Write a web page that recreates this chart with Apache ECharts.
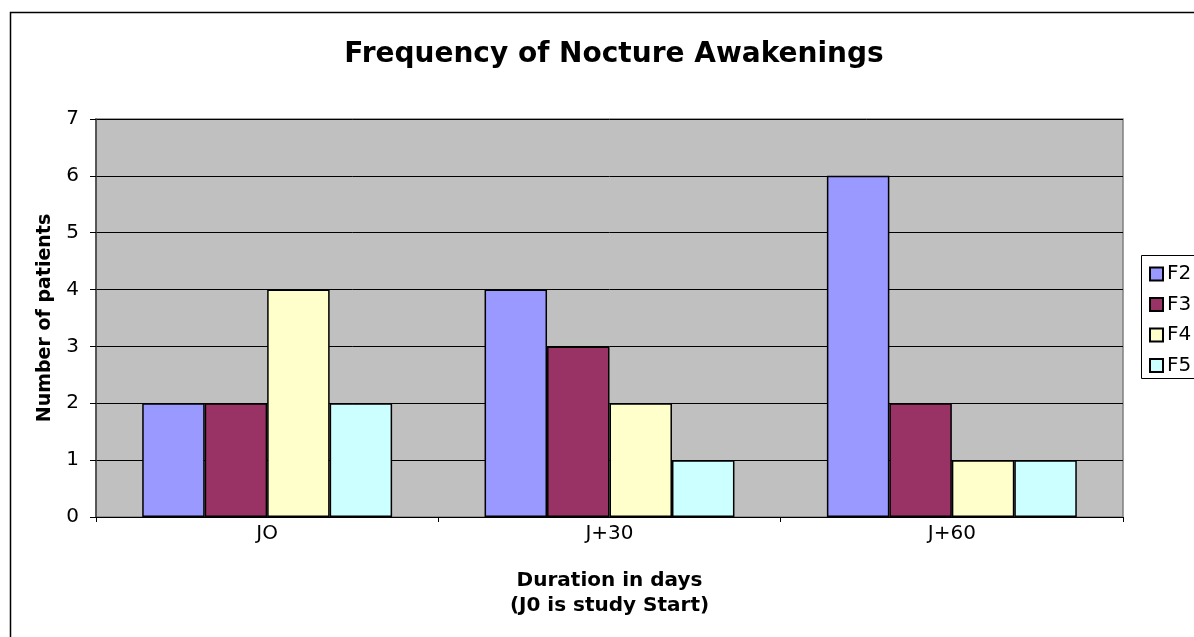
<!DOCTYPE html>
<html>
<head>
<meta charset="utf-8">
<script src="https://cdn.jsdelivr.net/npm/echarts@6/dist/echarts.min.js"></script>
<style>
  html, body { margin: 0; padding: 0; background: #fff; }
  #chart { width: 1194px; height: 637px; }
</style>
</head>
<body>
<div id="chart"></div>
<script>
// data
const categories = ['JO', 'J+30', 'J+60']
const seriesNames = ['F2', 'F3', 'F4', 'F5']
const f2 = [2, 4, 6]
const f3 = [2, 3, 2]
const f4 = [4, 2, 1]
const f5 = [2, 1, 1]
const colors = ['#9999FF', '#993366', '#FFFFCC', '#CCFFFF']

const values = [f2, f3, f4, f5]
const font = 'Verdana, "DejaVu Sans", sans-serif'

const chart = echarts.init(document.getElementById('chart'))
chart.setOption({
  animation: false,
  textStyle: { fontFamily: font },
  title: {
    text: 'Frequency of Nocture Awakenings',
    left: 609,
    textAlign: 'center',
    top: 36,
    textStyle: { fontSize: 28, fontWeight: 'bold', color: '#000', fontFamily: font }
  },
  legend: {
    orient: 'vertical',
    left: 1144,
    top: 259,
    itemWidth: 13,
    itemHeight: 13,
    itemGap: 10.5,
    icon: 'rect',
    textStyle: { fontSize: 20, color: '#000', padding: [0, 0, 0, -1] },
    data: seriesNames
  },
  graphic: [
    { type: 'rect', shape: { x: 10.5, y: 12.5, width: 1200, height: 640 }, style: { fill: null, stroke: '#000', lineWidth: 1.5 }, z: -1 },
    { type: 'rect', shape: { x: 1141.5, y: 255.5, width: 70, height: 123 }, style: { fill: null, stroke: '#000', lineWidth: 1 } }
  ],
  grid: {
    left: 96, right: 71, top: 119, bottom: 120,
    show: true,
    backgroundColor: '#C0C0C0',
    borderColor: '#808080',
    borderWidth: 1.5
  },
  xAxis: {
    type: 'category',
    data: categories,
    name: 'Duration in days\n(J0 is study Start)',
    nameLocation: 'middle',
    nameGap: 51,
    nameTextStyle: { fontSize: 20, fontWeight: 'bold', color: '#000', lineHeight: 25, verticalAlign: 'top' },
    axisLine: { lineStyle: { color: '#000', width: 1 } },
    axisTick: { show: true, length: 5, lineStyle: { color: '#000' } },
    axisLabel: { fontSize: 20, color: '#000', margin: 7 }
  },
  yAxis: {
    type: 'value',
    min: 0,
    max: 7,
    interval: 1,
    name: 'Number of patients',
    nameLocation: 'middle',
    nameGap: 41,
    nameTextStyle: { fontSize: 19, fontWeight: 'bold', color: '#000' },
    axisLine: { show: true, lineStyle: { color: '#404040', width: 1.5 } },
    axisTick: { show: true, length: 6, lineStyle: { color: '#000' } },
    axisLabel: { fontSize: 20, color: '#000', margin: 17 },
    splitLine: { show: true, lineStyle: { color: '#000', width: 1 } }
  },
  series: seriesNames.map((name, i) => ({
    name: name,
    type: 'bar',
    data: values[i],
    barGap: '0%',
    barCategoryGap: '27%',
    itemStyle: { color: colors[i], borderColor: '#000', borderWidth: 1.5 }
  }))
})
</script>
</body>
</html>
